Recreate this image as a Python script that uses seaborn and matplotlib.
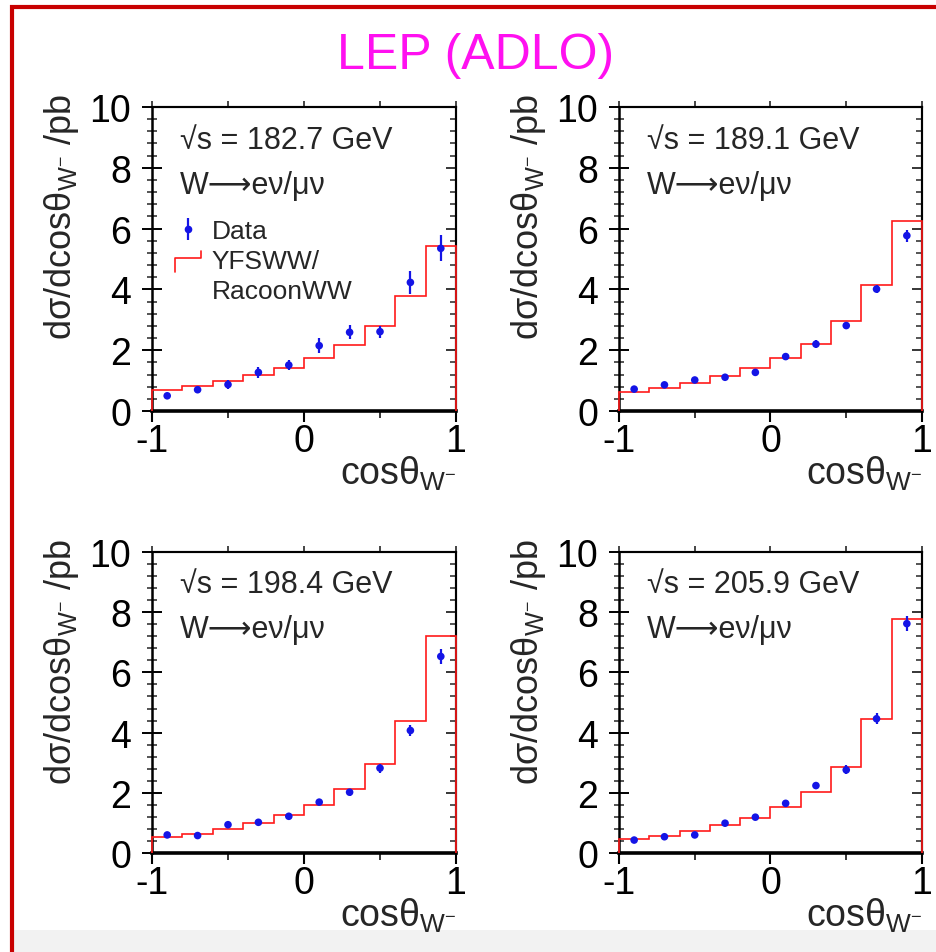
import numpy as np
import pandas as pd
import seaborn as sns
import matplotlib
matplotlib.use("Agg")
import matplotlib.pyplot as plt
from matplotlib.lines import Line2D
from matplotlib.patches import Rectangle
from matplotlib.legend_handler import HandlerBase
from matplotlib.ticker import MultipleLocator, FixedLocator, NullFormatter

# ---- binning in cos(theta_W-) ----
bin_edges = [-1.0, -0.8, -0.6, -0.4, -0.2, 0.0, 0.2, 0.4, 0.6, 0.8, 1.0]
bin_centres = [-0.9, -0.7, -0.5, -0.3, -0.1, 0.1, 0.3, 0.5, 0.7, 0.9]

energies = ["182.7", "189.1", "198.4", "205.9"]

# ---- measured differential cross sections (pb) and errors ----
data_1827 = [0.50, 0.70, 0.87, 1.27, 1.51, 2.15, 2.59, 2.61, 4.23, 5.35]
err_1827 = [0.10, 0.12, 0.16, 0.18, 0.17, 0.24, 0.23, 0.20, 0.37, 0.43]
data_1891 = [0.72, 0.86, 1.02, 1.11, 1.27, 1.79, 2.20, 2.81, 4.01, 5.77]
err_1891 = [0.06, 0.06, 0.07, 0.07, 0.09, 0.10, 0.12, 0.12, 0.14, 0.20]
data_1984 = [0.60, 0.58, 0.94, 1.02, 1.22, 1.69, 2.02, 2.82, 4.07, 6.53]
err_1984 = [0.07, 0.07, 0.09, 0.09, 0.10, 0.11, 0.12, 0.15, 0.18, 0.24]
data_2059 = [0.43, 0.54, 0.60, 0.99, 1.19, 1.65, 2.24, 2.76, 4.46, 7.62]
err_2059 = [0.06, 0.06, 0.07, 0.08, 0.10, 0.11, 0.13, 0.15, 0.19, 0.25]

# ---- YFSWW/RacoonWW prediction per bin (pb) ----
mc_1827 = [0.69, 0.83, 1.00, 1.19, 1.40, 1.75, 2.17, 2.81, 3.77, 5.44]
mc_1891 = [0.64, 0.76, 0.92, 1.14, 1.40, 1.75, 2.20, 2.95, 4.14, 6.26]
mc_1984 = [0.52, 0.63, 0.80, 1.00, 1.26, 1.61, 2.13, 2.96, 4.37, 7.21]
mc_2059 = [0.47, 0.58, 0.73, 0.93, 1.15, 1.52, 2.02, 2.87, 4.46, 7.78]

panels = [
    (energies[0], data_1827, err_1827, mc_1827),
    (energies[1], data_1891, err_1891, mc_1891),
    (energies[2], data_1984, err_1984, mc_1984),
    (energies[3], data_2059, err_2059, mc_2059),
]

sns.set_theme(style="ticks")
plt.rcParams["font.family"] = ["Liberation Sans", "DejaVu Sans"]
plt.rcParams["mathtext.fontset"] = "custom"
plt.rcParams["mathtext.rm"] = "Liberation Sans"
plt.rcParams["mathtext.it"] = "Liberation Sans"
plt.rcParams["mathtext.bf"] = "Liberation Sans:bold"

BLUE = "#1414e6"
RED = "#ff1a1a"
TXT = "#262626"
FS_TICK = 27

W, H = 937, 953
fig = plt.figure(figsize=(W / 100, H / 100), dpi=100)
fig.patch.set_facecolor("white")

# slide frame and light footer band
fig.add_artist(Rectangle((14 / W, 0), 1, 22 / H, transform=fig.transFigure,
                         facecolor="#f2f2f2", edgecolor="none", zorder=0))
fig.add_artist(Rectangle((12 / W, -0.1), 1.2, 1.1 - 8 / H,
                         transform=fig.transFigure, facecolor="none",
                         edgecolor="#c80000", linewidth=3.0, zorder=10))

fig.text(476 / W, 1 - 56 / H, "LEP (ADLO)", color="#ff10f0", fontsize=36,
         ha="center", va="center")


class StepHandler(HandlerBase):
    """Small histogram-edge symbol for the legend."""
    def create_artists(self, legend, orig_handle, xdescent, ydescent,
                       width, height, fontsize, trans):
        x0 = -xdescent
        x1 = x0 + width
        ym = -ydescent + height * 0.55
        xs = [x0, x0, x1, x1]
        ys = [ym - height * 0.75, ym, ym, ym + height * 0.4]
        ln = Line2D(xs, ys, color=orig_handle.get_color(),
                    lw=orig_handle.get_linewidth(), transform=trans)
        return [ln]


# axes rectangles [left, bottom, width, height] in figure fraction
rects = [
    [152 / W, 1 - 412 / H, 304 / W, 304 / H],
    [619 / W, 1 - 412 / H, 303 / W, 304 / H],
    [152 / W, 1 - 854 / H, 304 / W, 301 / H],
    [619 / W, 1 - 854 / H, 303 / W, 301 / H],
]

ylab = "d\u03c3/dcos\u03b8$_{\\mathrm{W}^{-}}$ /pb"
xlab = "cos\u03b8$_{\\mathrm{W}^{-}}$"

for i, (rect, (energy, vals, errs, pred)) in enumerate(zip(rects, panels)):
    ax = fig.add_axes(rect)
    ax.set_facecolor("white")

    # prediction as histogram
    ax.stairs(pred, bin_edges, baseline=0, color=RED, linewidth=1.2,
              zorder=3, clip_on=False)

    df = pd.DataFrame({"cos": bin_centres, "xsec": vals, "err": errs})
    ax.errorbar(df["cos"], df["xsec"], yerr=df["err"], fmt="none",
                ecolor=BLUE, elinewidth=1.6, capsize=0, zorder=4)
    sns.scatterplot(data=df, x="cos", y="xsec", ax=ax, color=BLUE, s=30,
                    edgecolor="none", zorder=5, legend=False)

    ax.set_xlim(-1, 1)
    ax.set_ylim(0, 10)

    # spines
    for side, lw in [("bottom", 2.6), ("left", 1.8), ("top", 1.5), ("right", 1.5)]:
        ax.spines[side].set_linewidth(lw)
        ax.spines[side].set_color("black")
        ax.spines[side].set_visible(True)

    # x ticks (bottom, outward)
    ax.xaxis.set_major_locator(FixedLocator([-1, 0, 1]))
    ax.xaxis.set_minor_locator(FixedLocator([-0.5, 0.5]))
    ax.set_xticklabels(["-1", "0", "1"])
    ax.tick_params(axis="x", which="major", direction="out", length=8,
                   width=1.5, pad=1, labelsize=FS_TICK, top=False,
                   colors="black")
    ax.tick_params(axis="x", which="minor", direction="out", length=5,
                   width=1.3, top=False)

    # y ticks (left, crossing the frame)
    ax.yaxis.set_major_locator(MultipleLocator(2))
    ax.yaxis.set_minor_locator(MultipleLocator(0.4))
    ax.tick_params(axis="y", which="major", direction="inout", length=14,
                   width=1.4, pad=8, labelsize=FS_TICK, right=False,
                   colors="black")
    ax.tick_params(axis="y", which="minor", direction="inout", length=7,
                   width=1.1, right=False)

    # top and right frame ticks
    sx = ax.secondary_xaxis("top")
    sx.xaxis.set_major_locator(FixedLocator([-1, -0.5, 0, 0.5, 1]))
    sx.xaxis.set_major_formatter(NullFormatter())
    sx.tick_params(direction="out", length=4, width=1.2)
    sx.spines["top"].set_linewidth(1.5)

    sy = ax.secondary_yaxis("right")
    sy.yaxis.set_major_locator(MultipleLocator(2))
    sy.yaxis.set_minor_locator(MultipleLocator(0.4))
    sy.yaxis.set_major_formatter(NullFormatter())
    sy.tick_params(which="major", direction="in", length=7, width=1.3)
    sy.tick_params(which="minor", direction="in", length=4, width=1.1)
    sy.spines["right"].set_linewidth(1.5)

    ax.set_xlabel(xlab, fontsize=27, loc="right", labelpad=-4)
    ax.set_ylabel(ylab, fontsize=26, loc="top")
    ax.yaxis.set_label_coords(-0.235, 1.045)

    ax.text(0.092, 0.893, "\u221as = " + energy + " GeV", transform=ax.transAxes,
            fontsize=22, color=TXT, ha="left", va="center")
    ax.text(0.092, 0.745, "W\u27f6e\u03bd/\u03bc\u03bd", transform=ax.transAxes,
            fontsize=22, color=TXT, ha="left", va="center")

    if i == 0:
        data_h = (Line2D([], [], color=BLUE, marker="|", markersize=16,
                         markeredgewidth=1.6, linestyle="none"),
                  Line2D([], [], color=BLUE, marker="o", markersize=5.5,
                         markeredgewidth=0, linestyle="none"))
        mc_h = Line2D([], [], color=RED, linewidth=1.2)
        blank = Line2D([], [], alpha=0)
        ax.legend([data_h, mc_h, blank], ["Data", "YFSWW/", "RacoonWW"],
                  handler_map={mc_h: StepHandler()},
                  loc="upper left", bbox_to_anchor=(0.075, 0.63),
                  frameon=False, fontsize=19, borderpad=0,
                  borderaxespad=0, handlelength=1.0, handletextpad=0.4,
                  labelspacing=0.22, labelcolor=TXT)

fig.savefig("out.png", dpi=100, facecolor="white")
